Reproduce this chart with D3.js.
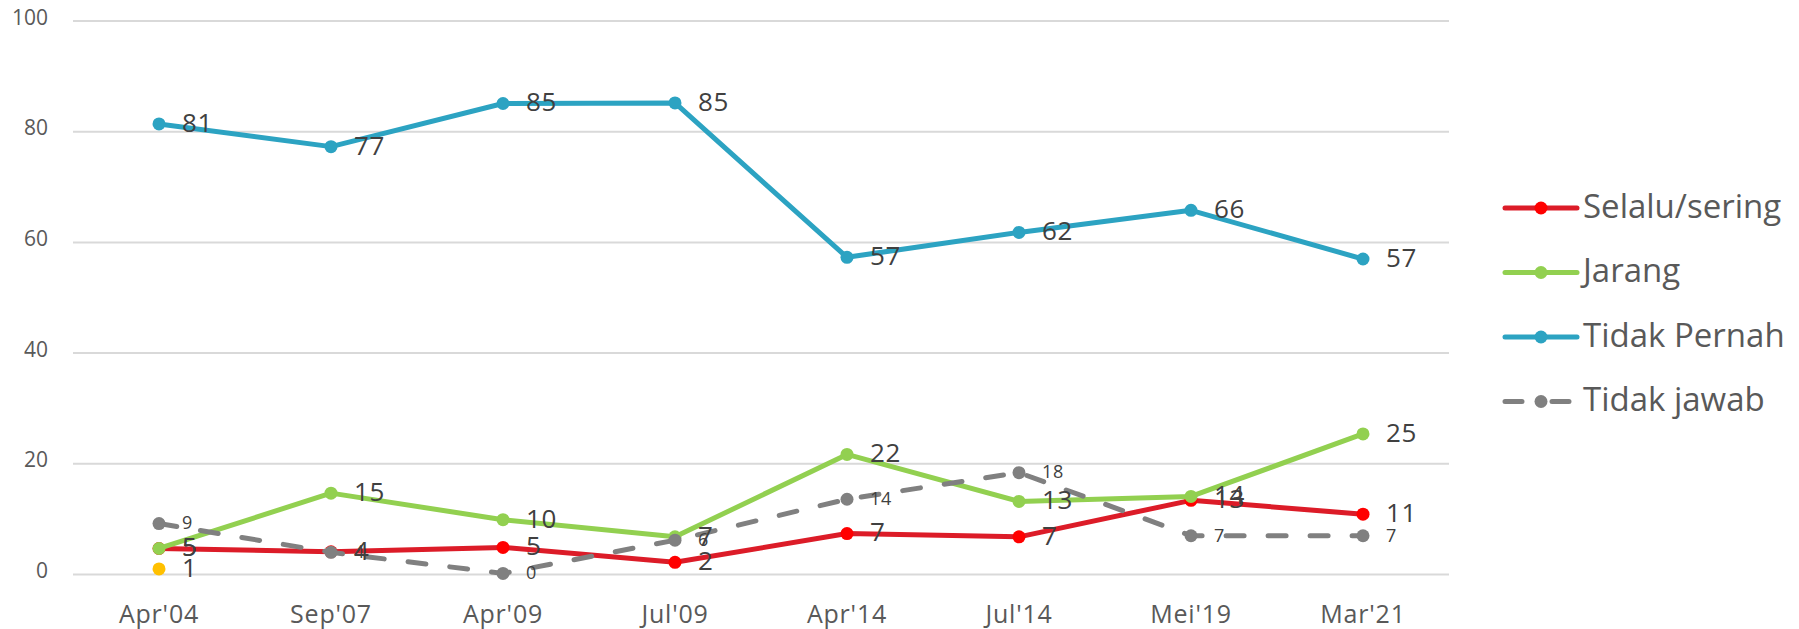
<!DOCTYPE html>
<html>
<head>
<meta charset="utf-8">
<script src="https://cdn.jsdelivr.net/npm/d3@7"></script>
<style>
    body { margin: 0; background: #fff; }
    svg { display: block; font-family: "Open Sans", sans-serif; }
</style>
</head>
<body>
<div id="chart"></div>
<script>
// categories and series
const periods = ["Apr'04", "Sep'07", "Apr'09", "Jul'09", "Apr'14", "Jul'14", "Mei'19", "Mar'21"];
const selaluSering = [4.7, 4.1, 4.9, 2.2, 7.4, 6.8, 13.4, 10.9];
const jarang = [4.7, 14.7, 9.9, 6.8, 21.7, 13.2, 14.1, 25.4];
const tidakPernah = [81.4, 77.3, 85.1, 85.2, 57.3, 61.8, 65.8, 57.0];
const tidakJawab = [9.2, 4.0, 0.2, 6.2, 13.6, 18.4, 7.0, 7.0];
const lainnya = [1.0, null, null, null, null, null, null, null];
const yTicks = [0, 20, 40, 60, 80, 100];

const series = [
    { name: "Selalu/sering", values: selaluSering, color: "#dc1c28", marker: "#ff0000", dash: null, labelSize: 26, legend: true },
    { name: "Jarang", values: jarang, color: "#92d050", marker: "#92d050", dash: null, labelSize: 26, legend: true },
    { name: "Tidak Pernah", values: tidakPernah, color: "#2ca3c2", marker: "#2ca3c2", dash: null, labelSize: 26, legend: true },
    { name: "Tidak jawab", values: tidakJawab, color: "#808080", marker: "#808080", dash: "18,24", labelSize: 18, legend: true },
    { name: "Lainnya", values: lainnya, color: "#ffc000", marker: "#ffc000", dash: null, labelSize: 26, legend: false }
];

const width = 1799, height = 629;

const svg = d3.select("#chart").append("svg")
    .attr("width", width)
    .attr("height", height);

const x = d3.scalePoint()
    .domain(periods)
    .range([73, 1449])
    .padding(0.5);

const y = d3.scaleLinear()
    .domain([0, 100])
    .range([574.5, 21]);

// gridlines
svg.append("g").selectAll("line")
    .data(yTicks)
    .join("line")
    .attr("x1", 73)
    .attr("x2", 1449)
    .attr("y1", d => y(d))
    .attr("y2", d => y(d))
    .attr("stroke", "#d9d9d9")
    .attr("stroke-width", 2);

// y axis labels
svg.append("g").selectAll("text")
    .data(yTicks)
    .join("text")
    .attr("x", 48)
    .attr("y", d => y(d) - 2)
    .attr("text-anchor", "end")
    .attr("dominant-baseline", "middle")
    .attr("font-size", 21)
    .attr("fill", "#595959")
    .text(d => d);

// x axis labels
svg.append("g").selectAll("text")
    .data(periods)
    .join("text")
    .attr("x", d => x(d))
    .attr("y", 623)
    .attr("text-anchor", "middle")
    .attr("font-size", 25)
    .attr("letter-spacing", 0.8)
    .attr("fill", "#595959")
    .text(d => d);

const line = d3.line()
    .defined(d => d.v !== null)
    .x(d => x(d.p))
    .y(d => y(d.v));

const seriesGroup = svg.append("g");
series.forEach(s => {
    const pts = periods.map((p, i) => ({ p: p, v: s.values[i] }));
    const g = seriesGroup.append("g");
    g.append("path")
        .datum(pts)
        .attr("d", line)
        .attr("fill", "none")
        .attr("stroke", s.color)
        .attr("stroke-width", 5)
        .attr("stroke-linejoin", "round")
        .attr("stroke-linecap", "round")
        .attr("stroke-dasharray", s.dash);
    g.selectAll("circle")
        .data(pts.filter(d => d.v !== null))
        .join("circle")
        .attr("cx", d => x(d.p))
        .attr("cy", d => y(d.v))
        .attr("r", 6.5)
        .attr("fill", s.marker);
});

// data labels on top
const labelGroup = svg.append("g");
series.forEach(s => {
    const pts = periods.map((p, i) => ({ p: p, v: s.values[i] })).filter(d => d.v !== null);
    labelGroup.append("g").selectAll("text")
        .data(pts)
        .join("text")
        .attr("x", d => x(d.p) + 23)
        .attr("y", d => y(d.v) + 1)
        .attr("dominant-baseline", "middle")
        .attr("font-size", s.labelSize)
        .attr("letter-spacing", 0.6)
        .attr("fill", "#404040")
        .text(d => Math.round(d.v));
});

// legend
const legend = svg.append("g")
    .selectAll("g")
    .data(series.filter(s => s.legend))
    .join("g")
    .attr("transform", (d, i) => `translate(1505,${208 + i * 64.5})`);

legend.append("line")
    .attr("x1", 0)
    .attr("x2", 72)
    .attr("stroke", d => d.color)
    .attr("stroke-width", 5)
    .attr("stroke-linecap", "round")
    .attr("stroke-dasharray", d => d.dash ? "17,30" : null);

legend.append("circle")
    .attr("cx", 36)
    .attr("r", 6.5)
    .attr("fill", d => d.marker);

legend.append("text")
    .attr("x", 78)
    .attr("y", 1)
    .attr("dominant-baseline", "middle")
    .attr("font-size", 33)
    .attr("fill", "#595959")
    .text(d => d.name);
</script>
</body>
</html>
